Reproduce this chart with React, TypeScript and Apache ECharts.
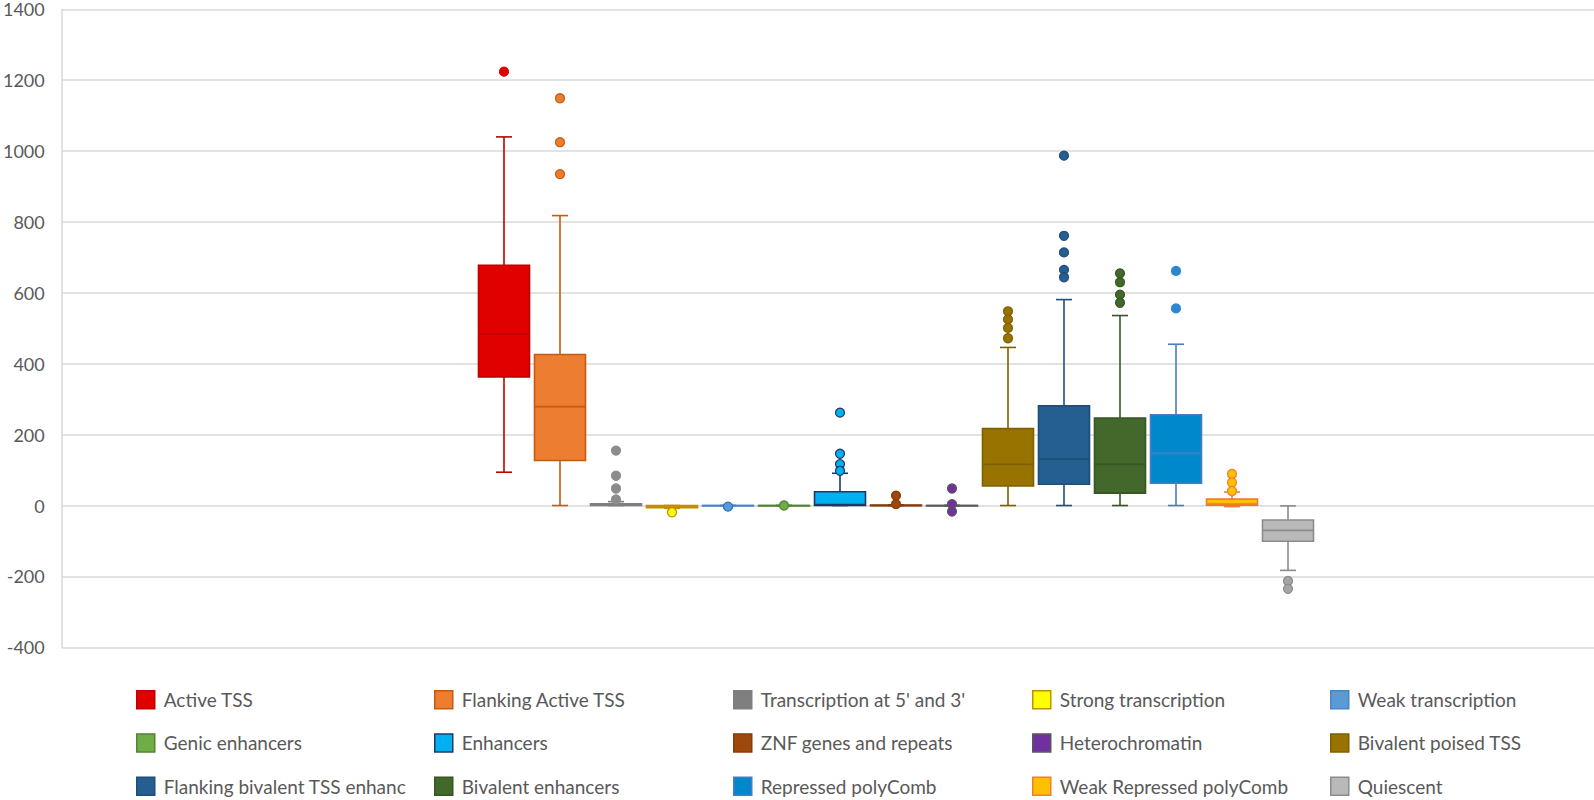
import React, { useEffect, useRef } from "react";
import * as echarts from "echarts";

const categories = [
  "Active TSS",
  "Flanking Active TSS",
  "Transcription at 5' and 3'",
  "Strong transcription",
  "Weak transcription",
  "Genic enhancers",
  "Enhancers",
  "ZNF genes and repeats",
  "Heterochromatin",
  "Bivalent poised TSS",
  "Flanking bivalent TSS enhanc",
  "Bivalent enhancers",
  "Repressed polyComb",
  "Weak Repressed polyComb",
  "Quiescent",
];

const whiskerMin = [94, 0, 0, -8, 0, 0, 0, 0, 0, 0, 0, 0, 0, -3, -183];
const quartile1 = [363, 127, 0, -6, 0, 0, 0, 0, 0, 55, 60, 35, 63, 1, -101];
const medians = [484, 279, 1, -3, 0, 0, 3, 0, 0, 116, 131, 116, 147, 4, -70];
const quartile3 = [678, 426, 5, 0, 0, 0, 39, 1, 0, 217, 281, 247, 256, 18, -41];
const whiskerMax = [1040, 818, 11, 0, 0, 0, 91, 2, 0, 446, 581, 536, 455, 38, -1];

const outliers = [
  [1224],
  [1149, 1025, 935],
  [155, 84, 48, 17],
  [-19],
  [-3],
  [0],
  [262, 146, 117, 98],
  [28, 4],
  [48, 4, -17],
  [548, 525, 501, 472],
  [987, 761, 714, 665, 644],
  [655, 630, 595, 572],
  [662, 556],
  [89, 65, 41],
  [-213, -235],
];

const fills = [
  "#E00000", "#ED7D31", "#7F7F7F", "#FFFF00", "#5B9BD5",
  "#70AD47", "#00B0F0", "#9E480E", "#7030A0", "#997300",
  "#255E91", "#43682B", "#0088CC", "#FFC000", "#B9B9B9",
];
const strokes = [
  "#C00000", "#C55A11", "#7F7F7F", "#BF9000", "#4A86C5",
  "#548235", "#1F3864", "#843C0C", "#595959", "#7F6000",
  "#1F4E79", "#375623", "#4A7CC4", "#ED7D31", "#8C8C8C",
];
const pointFills = [
  "#E00000", "#ED7D31", "#8C8C8C", "#FFFF00", "#5B9BD5",
  "#70AD47", "#00B0F0", "#9E480E", "#7030A0", "#997300",
  "#255E91", "#43682B", "#2F86D0", "#FFC000", "#A5A5A5",
];
const pointStrokes = [
  "#E00000", "#C55A11", "#8C8C8C", "#BF9000", "#2E75B6",
  "#548235", "#1F3864", "#843C0C", "#595959", "#7F6000",
  "#1F4E79", "#375623", "#2F86D0", "#ED7D31", "#8C8C8C",
];

const yTicksMin = -400;
const yTicksMax = 1400;
const yTickStep = 200;

const legendColumns = [
  [0, 5, 10],
  [1, 6, 11],
  [2, 7, 12],
  [3, 8, 13],
  [4, 9, 14],
];
const legendLefts = [136, 434, 733, 1032, 1330];

const BOX_RATIO = 51 / 56;
const CAP_RATIO = 16 / 56;

export default function App() {
  const ref = useRef<HTMLDivElement>(null);

  useEffect(() => {
    if (!ref.current) return;
    const chart = echarts.init(ref.current, null, { renderer: "svg" });

    const boxSeries = categories.map((name, i) => ({
      name,
      type: "custom",
      xAxisIndex: 1,
      yAxisIndex: 1,
      z: 2,
      itemStyle: { color: fills[i], borderColor: strokes[i] },
      encode: { x: 0, y: [1, 2, 3, 4, 5] },
      data: [[i, whiskerMin[i], quartile1[i], medians[i], quartile3[i], whiskerMax[i]]],
      renderItem: (params: any, api: any) => {
        const x = api.value(0);
        const lo = api.coord([x, api.value(1)]);
        const q1 = api.coord([x, api.value(2)]);
        const md = api.coord([x, api.value(3)]);
        const q3 = api.coord([x, api.value(4)]);
        const hi = api.coord([x, api.value(5)]);
        const band = api.size([1, 0])[0];
        const bw = band * BOX_RATIO;
        const cw = band * CAP_RATIO;
        const cx = lo[0];
        const ls = { stroke: strokes[i], lineWidth: 1.6, fill: null };
        return {
          type: "group",
          children: [
            { type: "line", shape: { x1: cx, y1: hi[1], x2: cx, y2: q3[1] }, style: ls },
            { type: "line", shape: { x1: cx, y1: q1[1], x2: cx, y2: lo[1] }, style: ls },
            { type: "line", shape: { x1: cx - cw / 2, y1: hi[1], x2: cx + cw / 2, y2: hi[1] }, style: ls },
            { type: "line", shape: { x1: cx - cw / 2, y1: lo[1], x2: cx + cw / 2, y2: lo[1] }, style: ls },
            {
              type: "rect",
              shape: { x: cx - bw / 2, y: q3[1], width: bw, height: Math.max(q1[1] - q3[1], 0.5) },
              style: { fill: fills[i], stroke: strokes[i], lineWidth: 1.6 },
            },
            { type: "line", shape: { x1: cx - bw / 2, y1: md[1], x2: cx + bw / 2, y2: md[1] }, style: ls },
          ],
        };
      },
    }));

    const pointSeries = categories.map((name, i) => ({
      name,
      type: "scatter",
      xAxisIndex: 1,
      yAxisIndex: 1,
      z: 3,
      symbol: "circle",
      symbolSize: 9,
      itemStyle: { color: pointFills[i], borderColor: pointStrokes[i], borderWidth: 1.2, opacity: 1 },
      data: outliers[i].map((v) => [i, v]),
    }));

    const legends = legendColumns.map((col, c) => ({
      orient: "vertical",
      left: legendLefts[c],
      top: 690,
      height: 140,
      padding: 0,
      itemWidth: 18,
      itemHeight: 18,
      itemGap: 23.7,
      icon: "rect",
      selectedMode: false,
      textStyle: {
        fontFamily: "Lato",
        fontSize: 19,
        color: "#595959",
        padding: [0, 0, 0, 4],
      },
      data: col.map((i) => ({
        name: categories[i],
        itemStyle: { color: fills[i], borderColor: strokes[i], borderWidth: 1.5 },
      })),
    }));

    chart.setOption({
      animation: false,
      backgroundColor: "#FFFFFF",
      textStyle: { fontFamily: "Lato" },
      legend: legends,
      grid: [
        { left: 60.5, right: 0, top: 9.3, bottom: 152.7 },
        { left: 476, width: 840, top: 9.3, bottom: 152.7 },
      ],
      xAxis: [
        { type: "value", gridIndex: 0, show: false, min: 0, max: 1 },
        { type: "category", gridIndex: 1, show: false, data: categories, boundaryGap: true },
      ],
      yAxis: [
        {
          type: "value",
          gridIndex: 0,
          min: yTicksMin,
          max: yTicksMax,
          interval: yTickStep,
          axisLine: { show: true, lineStyle: { color: "#D9D9D9", width: 1.5 } },
          axisTick: { show: false },
          axisLabel: {
            color: "#595959",
            fontSize: 18,
            fontFamily: "Lato",
            margin: 17,
            padding: [3, 0, 0, 0],
            formatter: (v: number) => String(v),
          },
          splitLine: { show: true, lineStyle: { color: "#D9D9D9", width: 1.5 } },
        },
        {
          type: "value",
          gridIndex: 1,
          min: yTicksMin,
          max: yTicksMax,
          interval: yTickStep,
          show: false,
          splitLine: { show: false },
        },
      ],
      series: [...boxSeries, ...pointSeries],
    });

    return () => chart.dispose();
  }, []);

  return (
    <div
      ref={ref}
      style={{ position: "absolute", left: 0, top: 0, width: 1594, height: 800, background: "#FFFFFF" }}
    />
  );
}
